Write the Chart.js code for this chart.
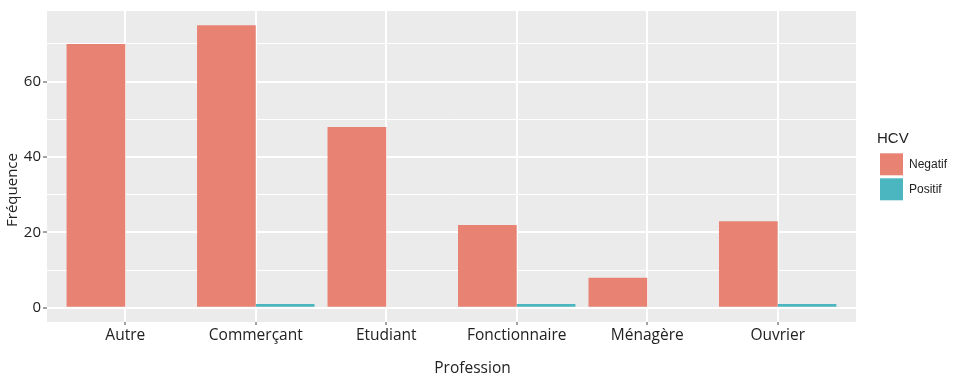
<!DOCTYPE html>
<html><head><meta charset="utf-8">
<script src="https://cdn.jsdelivr.net/npm/chart.js@4.4.1/dist/chart.umd.min.js"></script>
<style>html,body{margin:0;padding:0;background:#fff;}#wrap{width:964px;height:383px;}</style>
</head><body><div id="wrap"><canvas id="c" width="964" height="383"></canvas></div>
<script>
// ---- data ----
const categories = ['Autre', 'Commerçant', 'Etudiant', 'Fonctionnaire', 'Ménagère', 'Ouvrier'];
const negatif = [70, 75, 48, 22, 8, 23];
const positif = [0, 1, 0, 1, 0, 1];
const seriesNames = ['Negatif', 'Positif'];
const yMajorTicks = [0, 20, 40, 60];
const yMinorTicks = [10, 30, 50, 70];
const legendTitle = 'HCV';
const xTitle = 'Profession';
const yTitle = 'Fréquence';

// ---- style ----
const seriesColors = ['#E88374', '#4BB6C0'];
const textColor = '#222222';
const panelColor = '#EBEBEB';

const panelBg = {
  id: 'panelBg',
  beforeDraw(chart) {
    const {ctx, chartArea: a} = chart;
    ctx.save();
    ctx.fillStyle = panelColor;
    ctx.fillRect(a.left, a.top, a.right - a.left, a.bottom - a.top);
    ctx.restore();
  }
};
const legendShift = {
  id: 'legendShift',
  afterLayout(chart) {
    const lg = chart.legend;
    const dx = 877 - lg.left;
    lg.left += dx; lg.right += dx;
  }
};
const axisTitles = {
  id: 'axisTitles',
  afterDraw(chart) {
    const ctx = chart.ctx;
    ctx.save();
    ctx.fillStyle = textColor;
    ctx.textAlign = 'center';
    ctx.textBaseline = 'middle';
    ctx.font = '15.5px "Open Sans"';
    ctx.fillText(xTitle, 472.5, 369);
    ctx.translate(13, 190);
    ctx.rotate(-Math.PI / 2);
    ctx.font = '15px "Open Sans"';
    ctx.fillText(yTitle, 0, 0);
    ctx.restore();
  }
};

new Chart(document.getElementById('c'), {
  type: 'bar',
  data: {
    datasets: seriesNames.map((name, k) => ({
      label: name,
      data: (k === 0 ? negatif : positif).map((v, i) => ({x: i, y: v})),
      backgroundColor: seriesColors[k],
      borderWidth: 0,
      categoryPercentage: 0.9,
      barPercentage: 1.0
    }))
  },
  options: {
    responsive: false,
    animation: false,
    layout: {padding: {top: 10, right: 28, left: 0, bottom: 0}},
    scales: {
      x: {
        type: 'linear', min: -0.6, max: 5.6, offset: false,
        afterBuildTicks: s => { s.ticks = categories.map((_, i) => ({value: i})); },
        afterFit: s => { s.height = 61; },
        grid: {offset: false, color: '#ffffff', lineWidth: 2, tickLength: 3, tickColor: '#444', tickWidth: 1},
        border: {display: false},
        ticks: {autoSkip: false, maxRotation: 0, callback: v => categories[v],
          font: {family: 'Open Sans', size: 15.5}, color: textColor, padding: 1}
      },
      y: {
        type: 'linear', min: -3.75, max: 78.75,
        afterBuildTicks: s => { s.ticks = [...yMajorTicks, ...yMinorTicks].sort((a, b) => a - b).map(v => ({value: v})); },
        afterFit: s => { s.width = 47; },
        grid: {
          color: '#ffffff',
          lineWidth: c => yMajorTicks.includes(c.tick.value) ? 2 : 1,
          tickLength: 4,
          tickColor: c => yMajorTicks.includes(c.tick.value) ? '#444' : 'rgba(0,0,0,0)',
          tickWidth: 1
        },
        border: {display: false},
        ticks: {autoSkip: false, callback: v => yMajorTicks.includes(v) ? String(v) : '',
          font: {family: 'Open Sans', size: 15}, color: textColor, padding: 2}
      }
    },
    plugins: {
      tooltip: {enabled: false},
      legend: {
        position: 'right', align: 'start',
        title: {display: true, text: legendTitle, position: 'start',
          font: {family: 'Liberation Sans', size: 15}, color: textColor,
          padding: {top: 121.5, bottom: 0.8}},
        labels: {boxWidth: 23, boxHeight: 22, padding: 3,
          font: {family: 'Liberation Sans', size: 12}, color: textColor}
      }
    }
  },
  plugins: [panelBg, legendShift, axisTitles]
});
</script>
</body></html>
